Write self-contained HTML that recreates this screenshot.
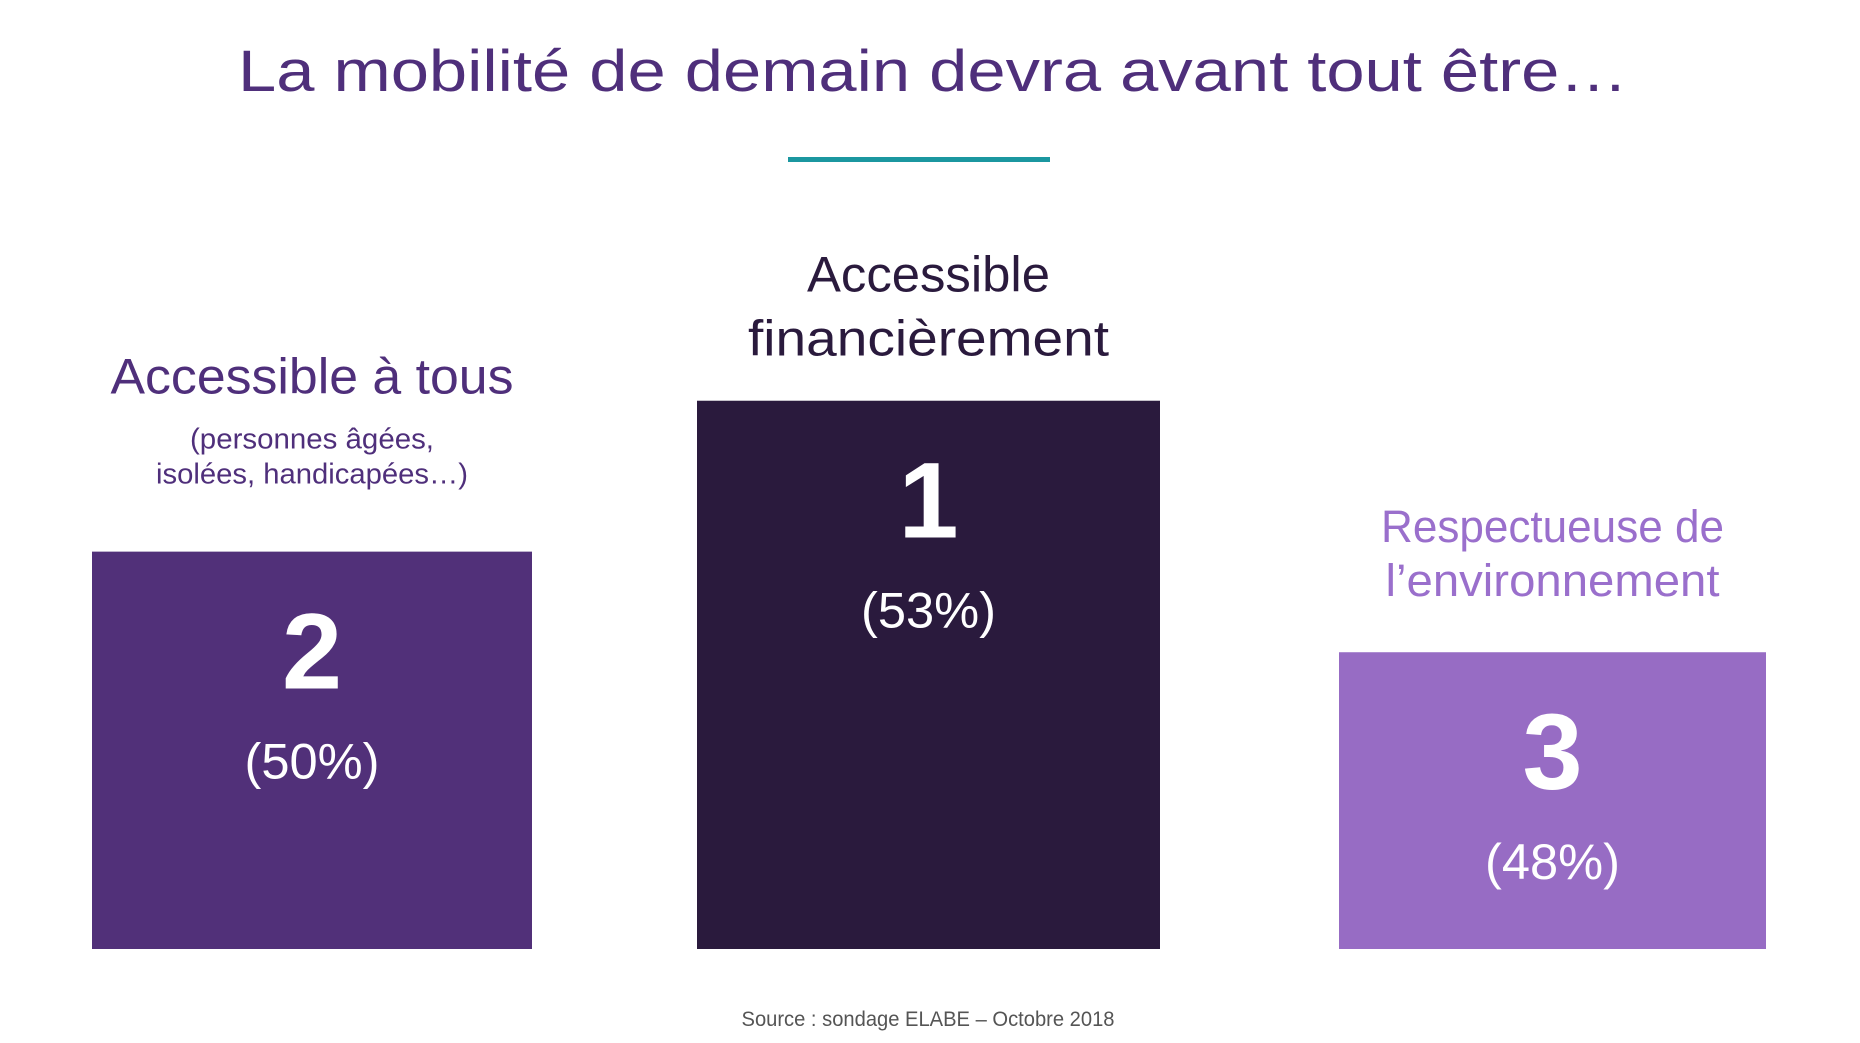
<!DOCTYPE html>
<html><head><meta charset="utf-8"><style>
html,body{margin:0;padding:0;background:#fff;}
svg{display:block;font-family:"Liberation Sans",sans-serif;}
</style></head><body>
<svg id="chart" width="1860" height="1043" viewBox="0 0 1860 1043">
<text x="933" y="91" font-size="58" fill="#4f2f7b" text-anchor="middle" textLength="1390" lengthAdjust="spacingAndGlyphs">La mobilité de demain devra avant tout être…</text>
<rect x="788" y="157" width="262" height="5" fill="#1b97a0"/>
<g id="bars"></g>
<text x="928" y="1026" font-size="21" fill="#555" text-anchor="middle" textLength="373" lengthAdjust="spacingAndGlyphs">Source : sondage ELABE – Octobre 2018</text>
</svg>
<script>
const categories = ["Accessible à tous", "Accessible financièrement", "Respectueuse de l’environnement"];
const ranks = ["2", "1", "3"];
const percents = [50, 53, 48];
const pctLabels = ["(50%)", "(53%)", "(48%)"];

const NS = "http://www.w3.org/2000/svg";
const base = 949, domainMin = 42.1, pxPer = 50.3;
function yScale(v){ return base - (v - domainMin) * pxPer; }
const xs = [[92,440],[697,463],[1339,427]];
const colors = ["#513079","#2a1a3d","#976cc4"];
const labelCol = ["#4f2f7b","#2a1a3d","#9a6fcc"];
const labelLines = [
  [["Accessible à tous",50,-158,403],["(personnes âgées,",29,-103,244],["isolées, handicapées…)",29,-68,312]],
  [["Accessible",50,-109,243],["financièrement",50,-45,361]],
  [["Respectueuse de",45,-110,343],["l’environnement",45,-56,334]]
];
const g = document.getElementById("bars");
function mk(tag, attrs){ const e=document.createElementNS(NS,tag); for(const k in attrs) e.setAttribute(k,attrs[k]); return e; }
categories.forEach((c,i)=>{
  const top = yScale(percents[i]);
  const [x,w] = xs[i];
  const cx = x + w/2;
  const r = mk("rect",{x:x,y:top,width:w,height:base-top,fill:colors[i]});
  
  
  g.appendChild(r);
  const n = mk("text",{x:cx,y:top+137,"font-size":108,"font-weight":"bold",fill:"#fff","text-anchor":"middle"});
  n.textContent = ranks[i];
  
  
  g.appendChild(n);
  const p = mk("text",{x:cx,y:top+227,"font-size":50,fill:"#fff","text-anchor":"middle",textLength:135,lengthAdjust:"spacingAndGlyphs"});
  p.textContent = pctLabels[i];
  
  
  g.appendChild(p);
  labelLines[i].forEach(l=>{
    const t = mk("text",{x:cx,y:top+l[2],"font-size":l[1],fill:labelCol[i],"text-anchor":"middle",textLength:l[3],lengthAdjust:"spacingAndGlyphs"});
    t.textContent = l[0];
    
    
    g.appendChild(t);
  });
});
</script>
</body></html>
